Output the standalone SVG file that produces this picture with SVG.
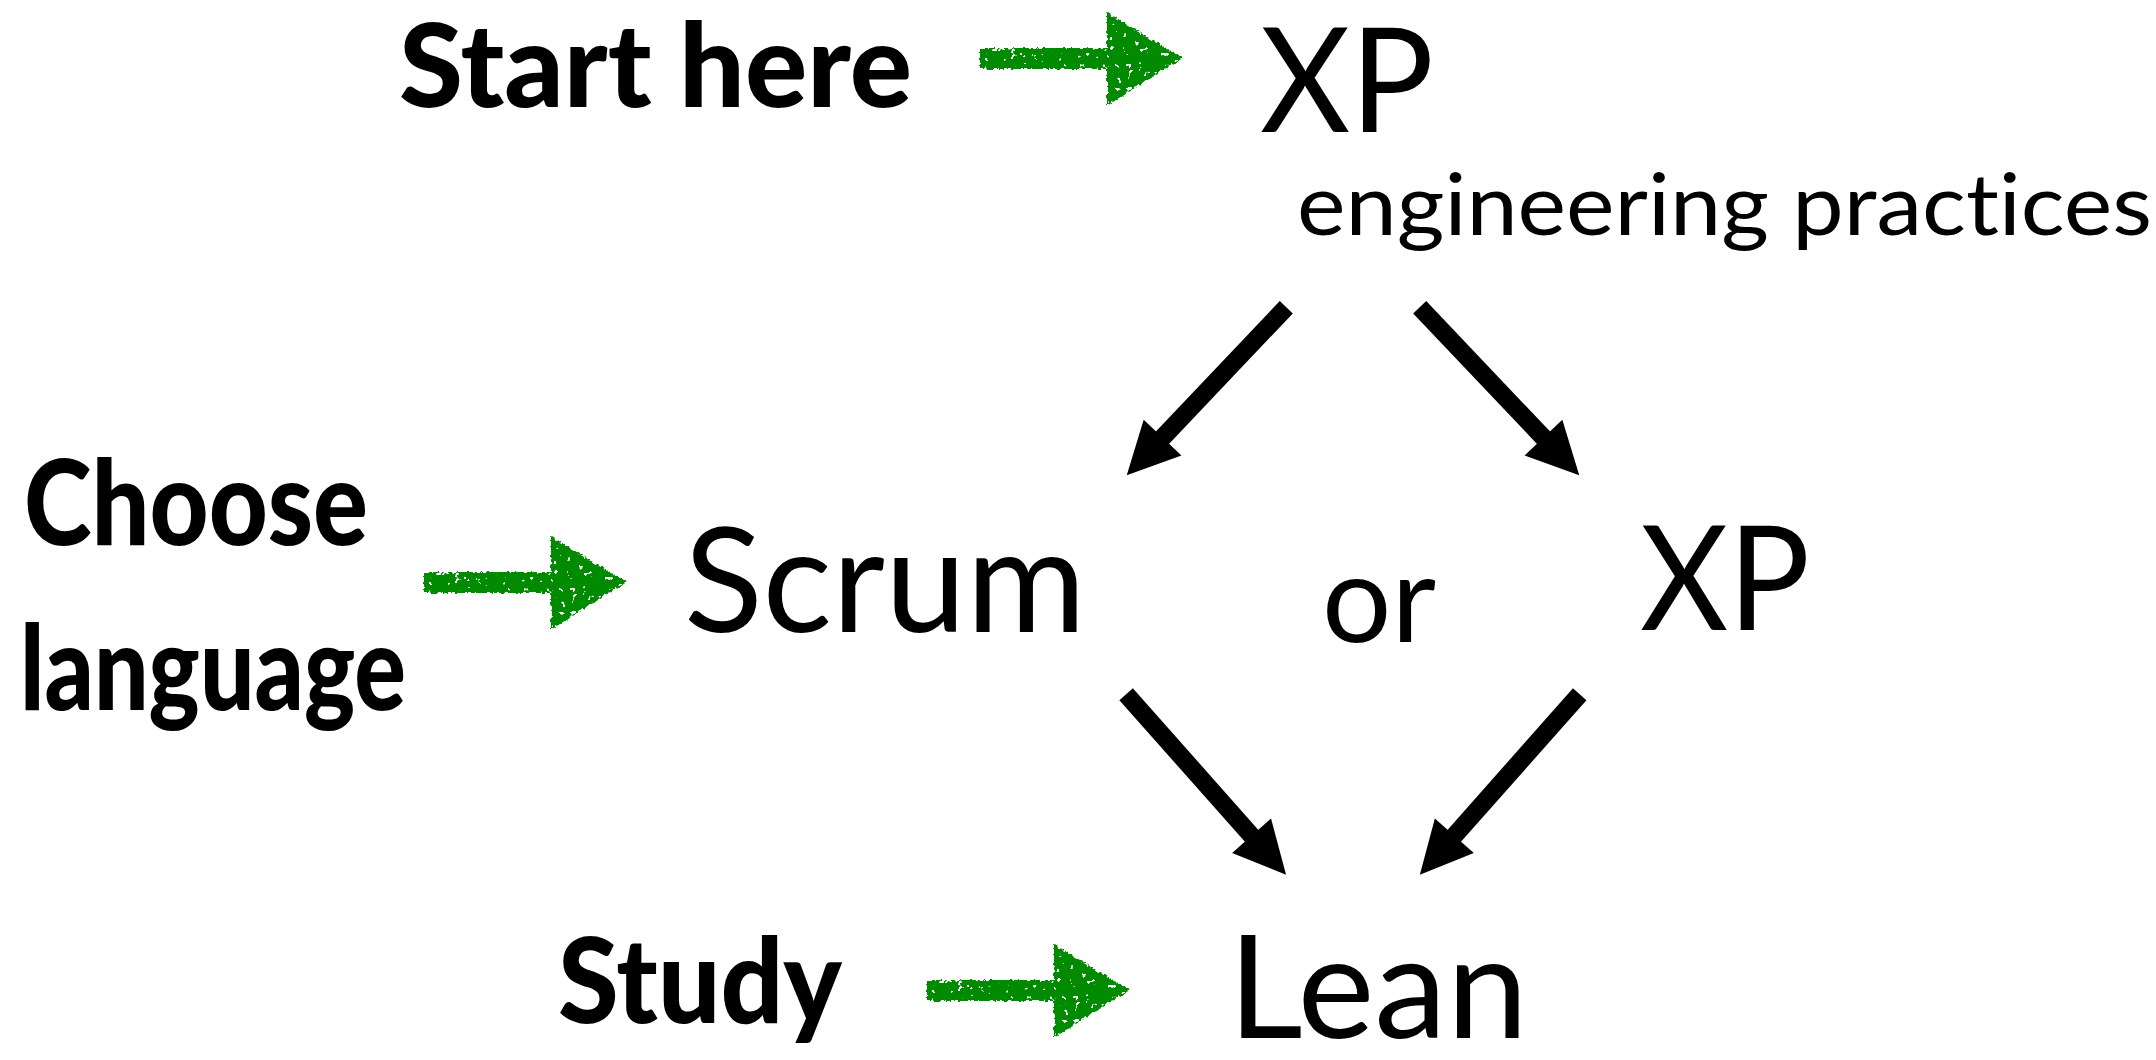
<svg xmlns="http://www.w3.org/2000/svg" width="2156" height="1060" viewBox="0 0 2156 1060">
  <style>
    .main { font-family: Lato, "Open Sans", "Noto Sans", sans-serif; fill: #000; font-variant-ligatures: none; }
    .hand { font-family: Lato, "Liberation Sans", sans-serif; font-weight: 900; fill: #000; font-variant-ligatures: none; }
    .flow { stroke: #000; stroke-width: 18; stroke-linecap: butt; fill: none; marker-end: url(#head); }
    .crayon { fill: #008a00; filter: url(#chalk); }
  </style>
  <defs>
    <!-- solid black arrowhead for the flow connectors -->
    <marker id="head" markerUnits="userSpaceOnUse" viewBox="0 0 52 52" markerWidth="52" markerHeight="52" refX="0.5" refY="26" orient="auto" overflow="visible">
      <path d="M0,0 L52,26 L0,52 Z" fill="#000"/>
    </marker>
    <!-- rough crayon edge with a few small gaps in the fill -->
    <filter id="chalk" x="-15%" y="-25%" width="130%" height="150%">
      <feTurbulence type="fractalNoise" baseFrequency="0.3" numOctaves="2" seed="3" result="noise"/>
      <feDisplacementMap in="SourceGraphic" in2="noise" scale="5" xChannelSelector="R" yChannelSelector="G" result="rough"/>
      <feTurbulence type="fractalNoise" baseFrequency="0.18" numOctaves="2" seed="11" result="speck"/>
      <feColorMatrix in="speck" type="matrix" values="0 0 0 0 0  0 0 0 0 0  0 0 0 0 0  -25 0 0 0 18" result="mask"/>
      <feComposite in="rough" in2="mask" operator="in"/>
    </filter>
    <!-- green hand-drawn pointer, tip at the origin -->
    <path id="pointer" d="M-203,-10 L-76,-10 L-76,-46 Q-38,-22 0,0 Q-38,22 -76,48 L-76,11 L-203,11 Z"/>
  </defs>

  <!-- nodes -->
  <g id="node-xp-top">
    <text class="main" x="1260" y="132" font-size="145" textLength="174" lengthAdjust="spacingAndGlyphs">XP</text>
    <text class="main" x="1297" y="235" font-size="85" textLength="855" lengthAdjust="spacingAndGlyphs">engineering practices</text>
  </g>
  <g id="node-scrum">
    <text class="main" x="684" y="632" font-size="146" textLength="402" lengthAdjust="spacingAndGlyphs">Scrum</text>
  </g>
  <g id="node-or">
    <text class="main" x="1322" y="642" font-size="122" textLength="114" lengthAdjust="spacingAndGlyphs">or</text>
  </g>
  <g id="node-xp-right">
    <text class="main" x="1640" y="630" font-size="145" textLength="170" lengthAdjust="spacingAndGlyphs">XP</text>
  </g>
  <g id="node-lean">
    <text class="main" x="1228" y="1038" font-size="144" textLength="300" lengthAdjust="spacingAndGlyphs">Lean</text>
  </g>

  <!-- hand-written annotations -->
  <g id="note-start-here">
    <text class="hand" x="399" y="107" font-size="117" textLength="513" lengthAdjust="spacingAndGlyphs">Start here</text>
  </g>
  <g id="note-choose-language">
    <text class="hand" x="24" y="545" font-size="118" textLength="344" lengthAdjust="spacingAndGlyphs">Choose</text>
    <text class="hand" x="20" y="710" font-size="118" textLength="386" lengthAdjust="spacingAndGlyphs">language</text>
  </g>
  <g id="note-study">
    <text class="hand" x="558" y="1023" font-size="118" textLength="284" lengthAdjust="spacingAndGlyphs">Study</text>
  </g>

  <!-- connectors -->
  <g id="connectors">
    <line class="flow" x1="1286.3" y1="307.2" x2="1162.2" y2="438.0"/>
    <line class="flow" x1="1419.7" y1="307.2" x2="1543.8" y2="438.0"/>
    <line class="flow" x1="1126.1" y1="694.2" x2="1251.9" y2="836.1"/>
    <line class="flow" x1="1579.7" y1="694.2" x2="1454.0" y2="836.1"/>
    <use href="#pointer" class="crayon" transform="translate(1183,58)"/>
    <use href="#pointer" class="crayon" transform="translate(627,582)"/>
    <use href="#pointer" class="crayon" transform="translate(1130,990)"/>
  </g>
</svg>
